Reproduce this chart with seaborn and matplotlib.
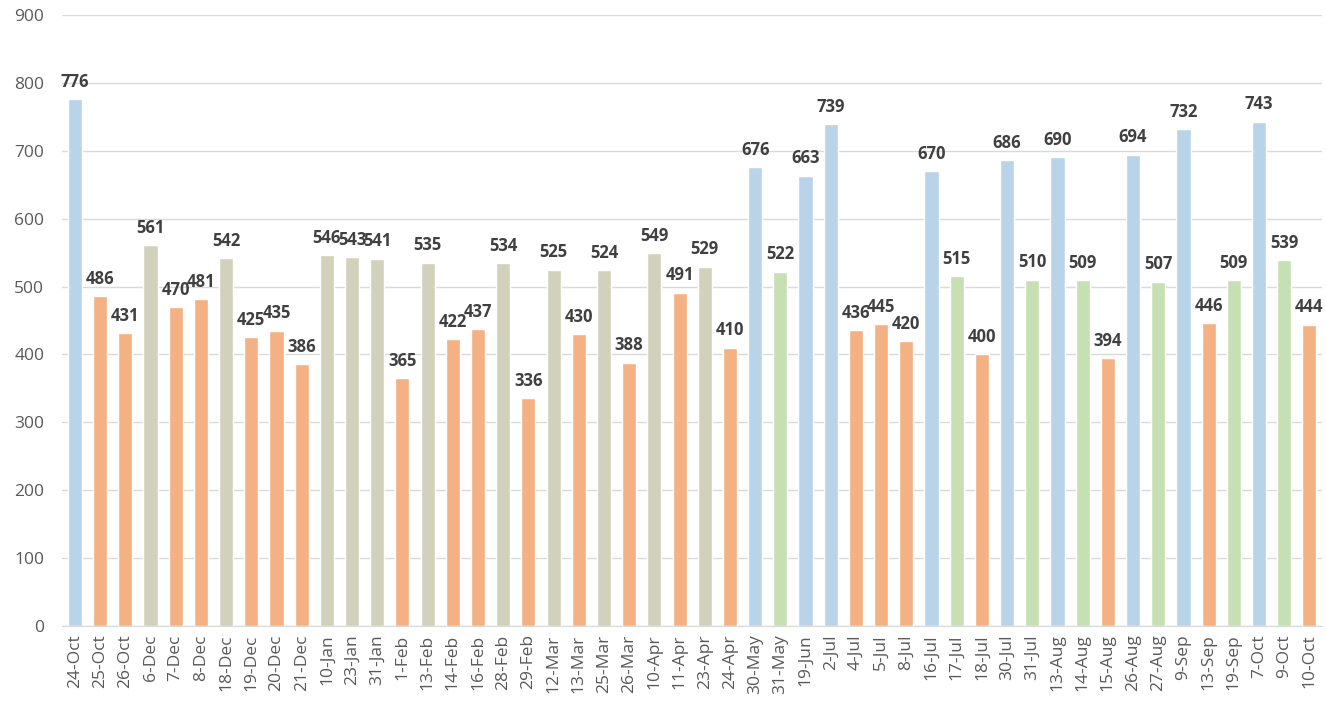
import matplotlib
matplotlib.use("Agg")
import matplotlib.pyplot as plt
import seaborn as sns
import pandas as pd

dates = ["24-Oct", "25-Oct", "26-Oct", "6-Dec", "7-Dec", "8-Dec", "18-Dec", "19-Dec", "20-Dec", "21-Dec",
         "10-Jan", "23-Jan", "31-Jan", "1-Feb", "13-Feb", "14-Feb", "16-Feb", "28-Feb", "29-Feb", "12-Mar",
         "13-Mar", "25-Mar", "26-Mar", "10-Apr", "11-Apr", "23-Apr", "24-Apr", "30-May", "31-May", "19-Jun",
         "2-Jul", "4-Jul", "5-Jul", "8-Jul", "16-Jul", "17-Jul", "18-Jul", "30-Jul", "31-Jul", "13-Aug",
         "14-Aug", "15-Aug", "26-Aug", "27-Aug", "9-Sep", "13-Sep", "19-Sep", "7-Oct", "9-Oct", "10-Oct"]
values = [776, 486, 431, 561, 470, 481, 542, 425, 435, 386,
          546, 543, 541, 365, 535, 422, 437, 534, 336, 525,
          430, 524, 388, 549, 491, 529, 410, 676, 522, 663,
          739, 436, 445, 420, 670, 515, 400, 686, 510, 690,
          509, 394, 694, 507, 732, 446, 509, 743, 539, 444]
groups = ["B", "O", "O", "K", "O", "O", "K", "O", "O", "O",
          "K", "K", "K", "O", "K", "O", "O", "K", "O", "K",
          "O", "K", "O", "K", "O", "K", "O", "B", "G", "B",
          "B", "O", "O", "O", "B", "G", "O", "B", "G", "B",
          "G", "O", "B", "G", "B", "O", "G", "B", "G", "O"]
palette = {"B": "#B9D4E8", "O": "#F4B183", "K": "#D1D1BC", "G": "#C6E0B4"}

df = pd.DataFrame({"date": dates, "value": values, "group": groups})

sns.set_style("white")
plt.rcParams["font.family"] = ["Open Sans", "DejaVu Sans"]

fig, ax = plt.subplots(figsize=(13.26, 7.09), dpi=100)
fig.subplots_adjust(left=0.047, right=0.997, top=0.979, bottom=0.117)

sns.barplot(data=df, x="date", y="value", hue="group", palette=palette,
            dodge=False, width=0.56, legend=False, ax=ax, saturation=1)

for i, v in enumerate(values):
    ax.annotate(str(v), (i, v), xytext=(0, 6), textcoords="offset points",
                ha="center", va="bottom", fontsize=12, fontweight="bold", color="#404040")

ax.set_ylim(0, 900)
ax.set_xlim(-0.5, len(dates) - 0.5)
ax.set_yticks(range(0, 901, 100))
ax.yaxis.grid(True, color="#D9D9D9", linewidth=1)
ax.set_axisbelow(True)
ax.set_xlabel("")
ax.set_ylabel("")
ax.tick_params(axis="x", rotation=90, labelsize=12.5, colors="#595959", length=0, pad=6)
ax.tick_params(axis="y", labelsize=12.5, colors="#595959", length=0, pad=13)
for s in ["top", "right", "left"]:
    ax.spines[s].set_visible(False)
ax.spines["bottom"].set_color("#D9D9D9")

fig.savefig("out.png", dpi=100)
